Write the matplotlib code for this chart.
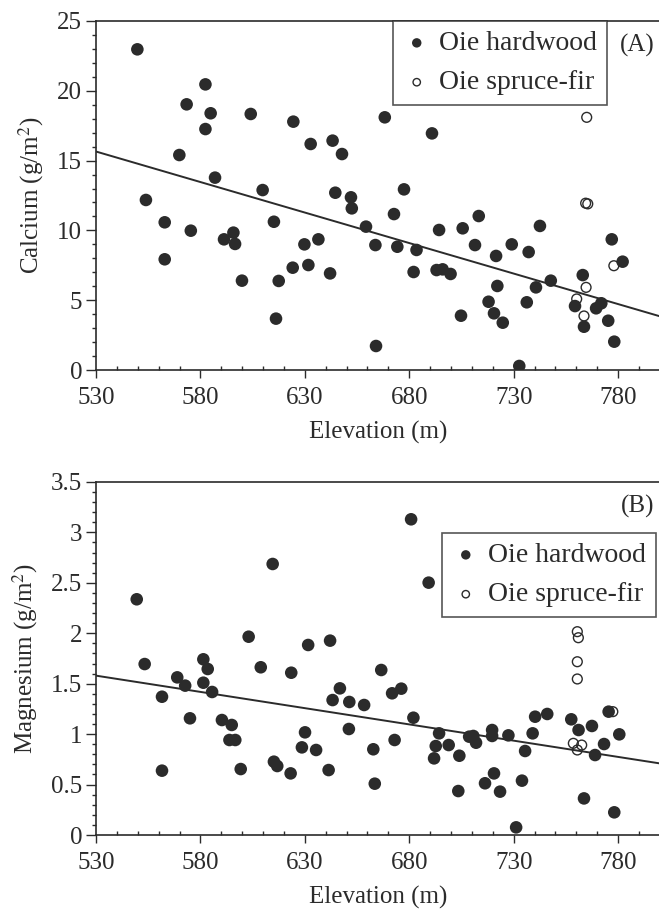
import numpy as np
from matplotlib import pyplot as plt
from matplotlib.ticker import MultipleLocator, FormatStrFormatter

plt.rcParams['font.family'] = ['Liberation Serif', 'DejaVu Serif']
plt.rcParams['mathtext.fontset'] = 'stix'

# panel A, calcium
caHardElev = [549.8, 582.4, 573.4, 584.9, 604.1, 582.4, 569.9, 587.0, 609.8, 553.9,
              562.9, 615.2, 575.4, 595.8, 591.3, 596.6, 562.9, 599.9, 617.5, 616.2,
              624.5, 668.3, 690.9, 632.8, 643.3, 647.8, 644.6, 652.1, 652.5, 677.5,
              672.7, 659.3, 694.3, 705.6, 629.8, 636.5, 663.8, 674.3, 683.5, 624.2,
              631.7, 642.1, 682.1, 693.1, 696.0, 699.8, 704.8, 664.1,
              713.3, 742.6, 711.5, 729.1, 721.6, 737.2, 777.0, 782.2, 722.2, 740.7,
              747.8, 763.1, 718.0, 736.3, 720.6, 724.8, 759.4, 769.5, 772.0, 763.7,
              775.3, 778.2, 732.7]
caHard = [22.97, 20.46, 19.03, 18.39, 18.34, 17.26, 15.40, 13.78, 12.89, 12.18,
          10.58, 10.62, 9.98, 9.84, 9.36, 9.03, 7.93, 6.40, 6.38, 3.68,
          17.79, 18.10, 16.95, 16.19, 16.43, 15.47, 12.70, 12.37, 11.58, 12.94,
          11.17, 10.27, 10.03, 10.15, 9.00, 9.36, 8.95, 8.83, 8.60, 7.33,
          7.52, 6.92, 7.02, 7.16, 7.21, 6.88, 3.89, 1.72,
          11.03, 10.32, 8.95, 9.00, 8.17, 8.45, 9.36, 7.76, 6.02, 5.92,
          6.40, 6.80, 4.89, 4.85, 4.06, 3.39, 4.58, 4.42, 4.78, 3.10,
          3.53, 2.03, 0.29]
caSpruceElev = [765.0, 764.5, 765.5, 778.0, 764.7, 760.2, 763.7]
caSpruce = [18.10, 11.95, 11.90, 7.47, 5.92, 5.09, 3.87]
caFitElev = [530, 800]
caFit = [15.65, 3.85]

# panel B, magnesium
mgHardElev = [549.5, 614.6, 603.1, 553.3, 581.4, 583.5, 608.9, 568.9, 572.7, 581.4,
              585.6, 561.6, 575.0, 590.3, 595.0, 593.9, 596.7, 561.6, 599.3, 615.2,
              616.8, 680.9, 689.3, 631.6, 642.1, 623.5, 666.6, 646.8, 643.3, 651.3,
              658.4, 671.8, 676.2, 682.0, 630.1, 651.1, 628.6, 635.4, 623.2, 641.4,
              662.8, 673.0, 663.5, 694.3, 692.7, 698.9, 691.9, 704.0, 703.5, 708.7,
              740.3, 746.1, 710.7, 719.7, 719.7, 727.5, 712.0, 739.1, 735.5, 720.6,
              716.3, 723.5, 734.0, 731.2, 757.6, 761.1, 767.5, 775.5, 780.6, 773.3,
              769.0, 763.7, 778.2]
mgHard = [2.337, 2.687, 1.966, 1.695, 1.742, 1.646, 1.663, 1.563, 1.481, 1.510,
          1.418, 1.371, 1.157, 1.140, 1.091, 0.942, 0.942, 0.638, 0.654, 0.727,
          0.684, 3.130, 2.502, 1.884, 1.927, 1.609, 1.636, 1.454, 1.338, 1.319,
          1.289, 1.405, 1.451, 1.163, 1.018, 1.051, 0.869, 0.843, 0.611, 0.644,
          0.850, 0.942, 0.509, 1.008, 0.882, 0.892, 0.760, 0.786, 0.436, 0.975,
          1.173, 1.200, 0.982, 1.041, 0.982, 0.988, 0.915, 1.008, 0.833, 0.611,
          0.513, 0.430, 0.539, 0.076, 1.147, 1.041, 1.081, 1.223, 0.998, 0.902,
          0.793, 0.363, 0.225]
mgSpruceElev = [760.5, 761.0, 760.5, 760.5, 777.5, 758.6, 762.6, 760.5]
mgSpruce = [2.016, 1.956, 1.718, 1.547, 1.223, 0.909, 0.892, 0.843]
mgFitElev = [530, 800]
mgFit = [1.58, 0.71]

xTicks = [530, 580, 630, 680, 730, 780]
ink = '#2b2b2b'


def panel(ax, hx, hy, sx, sy, fx, fy, ymax, ymajor, yminor, ylabel, tag, legPos):
    ax.plot(fx, fy, color=ink, linewidth=1.4, zorder=2)
    ax.scatter(hx, hy, s=82, color=ink, edgecolors='none', label='Oie hardwood', zorder=3)
    ax.scatter(sx, sy, s=50, facecolors='none', edgecolors=ink, linewidths=1.0,
               label='Oie spruce-fir', zorder=4)
    ax.set_xlim(530, 800)
    ax.set_ylim(0, ymax)
    ax.set_xticks(xTicks)
    ax.xaxis.set_minor_locator(MultipleLocator(10))
    ax.yaxis.set_major_locator(MultipleLocator(ymajor))
    ax.yaxis.set_minor_locator(MultipleLocator(yminor))
    ax.yaxis.set_major_formatter(FormatStrFormatter('%g'))
    ax.tick_params(axis='x', which='major', direction='out', length=6, width=1, pad=6,
                   labelsize=18, color=ink, labelcolor=ink)
    ax.tick_params(axis='x', which='minor', direction='in', length=3, width=1, color=ink)
    ax.tick_params(axis='y', which='major', direction='out', length=7, width=1, pad=3,
                   labelsize=18, color=ink, labelcolor=ink)
    ax.tick_params(axis='y', which='minor', direction='out', length=3, width=1, color=ink)
    ax.spines['right'].set_visible(False)
    for s in ['left', 'bottom', 'top']:
        ax.spines[s].set_color(ink)
        ax.spines[s].set_linewidth(1.2)
    ax.set_xlabel('Elevation (m)', fontsize=18, color=ink, labelpad=9)
    ax.set_ylabel(ylabel, fontsize=18, color=ink, labelpad=8)
    ax.text(0.96, 0.93, tag, transform=ax.transAxes, fontsize=18, color=ink,
            ha='center', va='center')
    leg = ax.legend(loc='upper left', bbox_to_anchor=legPos, fontsize=20,
                    frameon=True, fancybox=False, borderaxespad=0, handletextpad=0.3,
                    handlelength=1.0, labelspacing=0.5, borderpad=0.35,
                    markerscale=0.75)
    leg.get_frame().set_edgecolor(ink)
    leg.get_frame().set_linewidth(1.2)
    for t in leg.get_texts():
        t.set_color(ink)


fig = plt.figure(figsize=(6.59, 9.17), dpi=100)
axA = fig.add_axes([0.1457, 0.5965, 0.8555, 0.3806])
axB = fig.add_axes([0.1457, 0.0894, 0.8555, 0.3850])

panel(axA, caHardElev, caHard, caSpruceElev, caSpruce, caFitElev, caFit,
      25, 5, 1, 'Calcium (g/m$^2$)', '(A)', (0.527, 1.0))
panel(axB, mgHardElev, mgHard, mgSpruceElev, mgSpruce, mgFitElev, mgFit,
      3.5, 0.5, 0.1, 'Magnesium (g/m$^2$)', '(B)', (0.614, 0.8555))

fig.savefig('out.png', dpi=100)
